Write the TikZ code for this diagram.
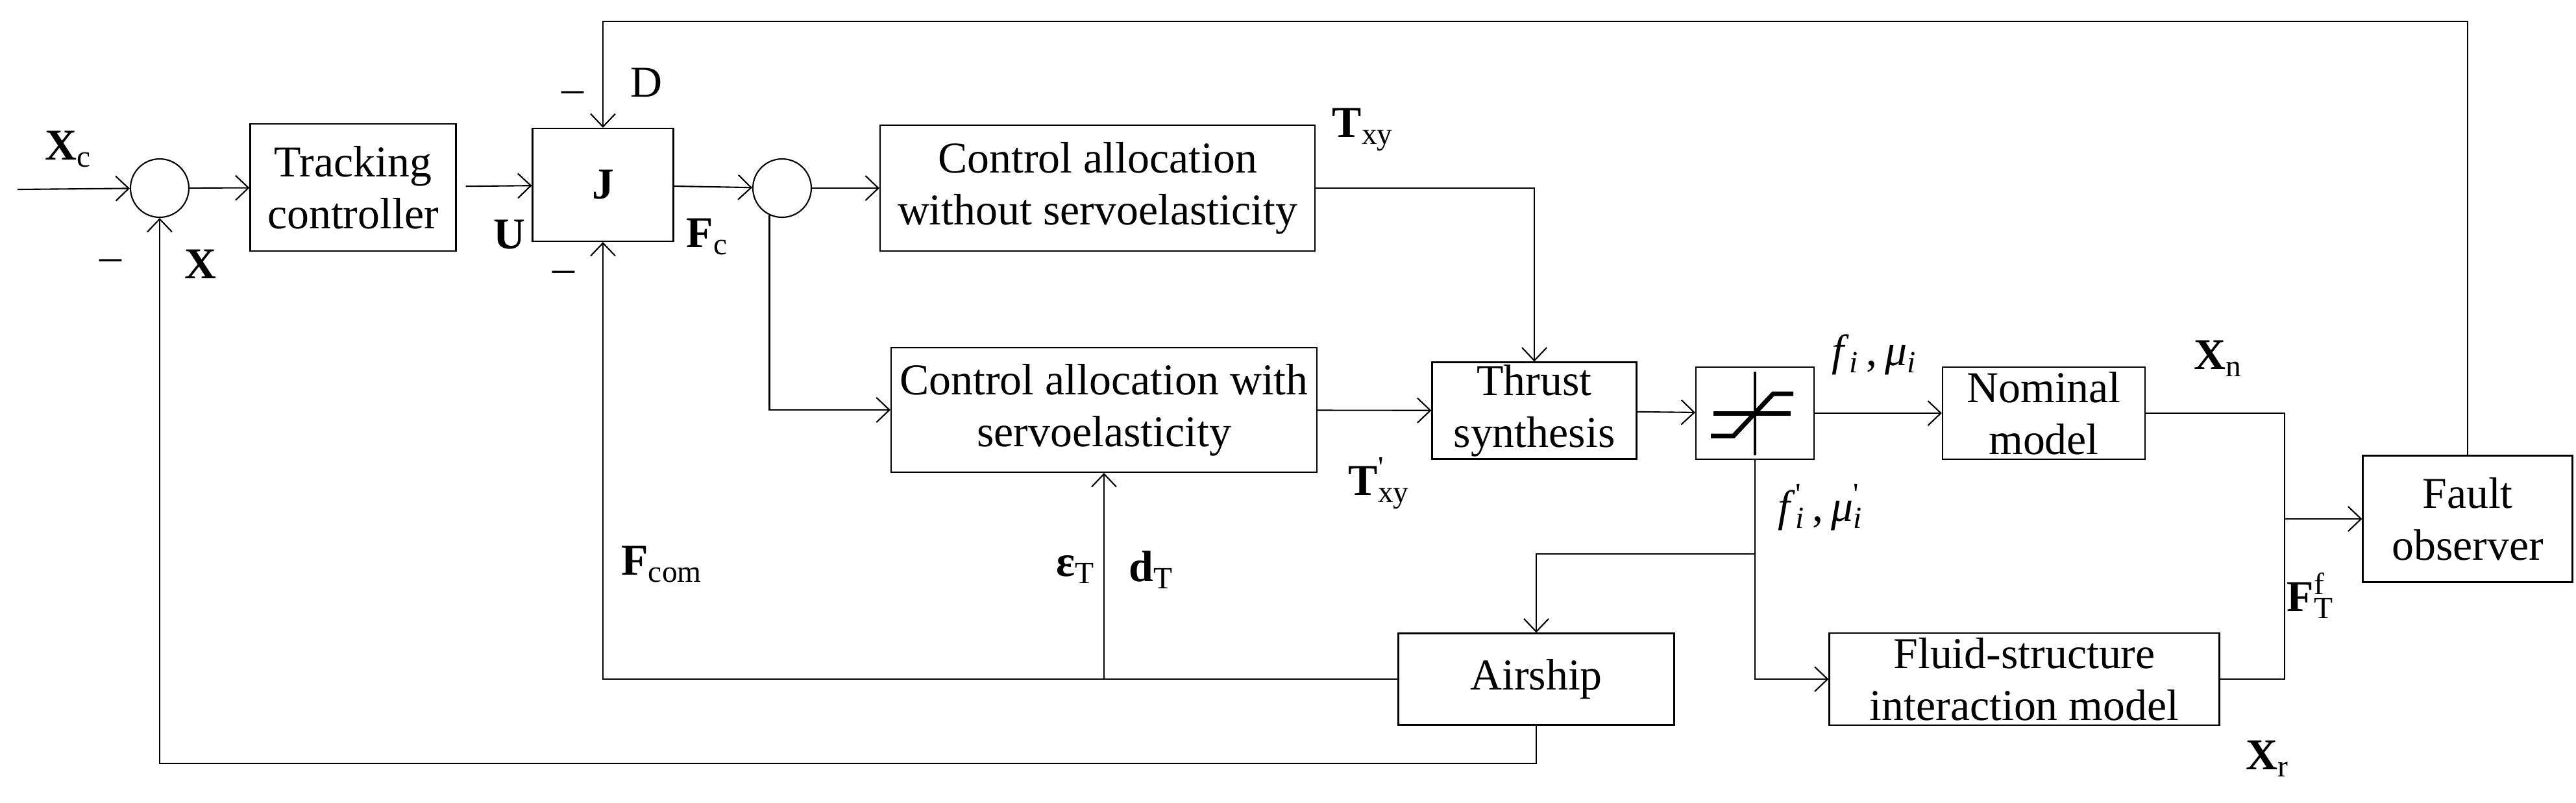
\documentclass[tikz,border=0pt]{standalone}
\usepackage{fontspec}
\setmainfont{Liberation Serif}
\usetikzlibrary{arrows.meta, positioning}
\def\pr{\textsuperscript{\textquotesingle}}

\begin{document}
\begin{tikzpicture}[>={Straight Barb[length=2mm,width=3.8mm]}, line width=0.6pt,
    font=\fontsize{19.3}{22.8}\selectfont]
    \tikzstyle{block}=[draw, rectangle, align=center, inner sep=0pt]
    \tikzstyle{summer}=[draw, circle, minimum size=0.9cm, inner sep=0pt]
    \tikzstyle{sig}=[inner sep=0pt]
    \useasboundingbox (0,0) rectangle (39.69,-12.37);

    % Draw the blocks of the upper row
    \node[summer] (S1) at (2.46,-2.90) {};
    \node[block, minimum width=3.17cm, minimum height=1.96cm] (TC) at (5.44,-2.89) {Tracking\\controller};
    \node[block, minimum width=2.17cm, minimum height=1.74cm] (J) at (9.29,-2.85) {\textbf{J}};
    \node[summer] (S2) at (12.05,-2.90) {};
    \node[block, minimum width=6.70cm, minimum height=1.94cm] (CA1) at (16.91,-2.90) {Control allocation\\without servoelasticity};

    % Draw the blocks of the middle row
    \node[block, minimum width=6.56cm, minimum height=1.92cm] (CA2) at (17.01,-6.32) {Control allocation with\\servoelasticity};
    \node[block, minimum width=3.15cm, minimum height=1.49cm] (TS) at (23.64,-6.33) {Thrust\\synthesis};
    \node[block, minimum width=1.82cm, minimum height=1.42cm] (SAT) at (27.04,-6.37) {};
    \node[block, minimum width=3.12cm, minimum height=1.42cm] (NM) at (31.49,-6.37) {Nominal\\model};
    \node[block, minimum width=3.23cm, minimum height=1.95cm] (FO) at (38.02,-8.00) {Fault\\observer};

    % Draw the blocks of the lower row
    \node[block, minimum width=4.25cm, minimum height=1.41cm] (AS) at (23.67,-10.47) {Airship};
    \node[block, minimum width=6.01cm, minimum height=1.42cm] (FSI) at (31.19,-10.47) {Fluid-structure\\interaction model};

    % Saturation sign
    \draw[line width=1.4pt] ([yshift=0.64cm]SAT.center) -- ([yshift=-0.65cm]SAT.center);
    \draw[line width=2pt] ([xshift=-0.64cm]SAT.center) -- ([xshift=0.55cm]SAT.center);
    \draw[line width=2pt] ([shift={(-0.68,-0.35)}]SAT.center) -- ([shift={(-0.33,-0.35)}]SAT.center)
        -- ([shift={(0.28,0.30)}]SAT.center) -- ([shift={(0.59,0.30)}]SAT.center);

    % Corner points of the connectors
    \coordinate (Xin) at (0.27,-2.92);
    \coordinate (T) at (38.02,-0.33);
    \coordinate (M) at (35.20,-8.00);
    \coordinate (B) at (27.04,-8.54);
    \coordinate (Bot) at (2.46,-11.77);

    % Connect the blocks
    \draw[->] (Xin) -- (S1);
    \draw[->] (S1) -- (TC);
    \draw[->, shorten <=0.14cm] (TC) -- (J);
    \draw[->] (J) -- (S2);
    \draw[->] (S2) -- (CA1);
    \draw[->] (S2.245) |- (CA2);
    \draw[->] (CA1) -| (TS);
    \draw[->] (CA2) -- (TS);
    \draw[->] (TS) -- (SAT);
    \draw[->] (SAT) -- (NM);
    \draw[->] (NM) -| (M) -- (FO);
    \draw (FSI) -| (M);
    \draw[->] (FO) -- (T) -| (J);
    \draw[->] (SAT) |- (FSI);
    \draw[->] (B) -| (AS);
    \draw[->] (AS) -| (J);
    \draw[->] (CA2 |- AS) -- (CA2);
    \draw[->] (AS) |- (Bot) -- (S1);

    % Signal labels
    \node[sig] (lXc) at (1.05,-2.30) {\textbf{X}\textsubscript{c}};
    \node[sig] (m1) at (1.70,-4.09) {–};
    \node[sig] (lX) at (3.09,-4.07) {\textbf{X}};
    \node[sig] (lD) at (9.96,-1.27) {D};
    \node[sig] (m2) at (8.82,-1.50) {–};
    \node[sig] (lU) at (7.85,-3.62) {\textbf{U}};
    \node[sig] (m3) at (8.68,-4.27) {–};
    \node[sig] (lFc) at (10.90,-3.65) {\textbf{F}\textsubscript{c}};
    \node[sig] (lT1) at (21.00,-2.00) {\textbf{T}\textsubscript{xy}};
    \node[sig] (lT2) at (21.25,-7.45) {\textbf{T}\rlap{\pr}\textsubscript{xy}};
    \node[sig] (lFcom) at (10.20,-8.70) {\textbf{F}\textsubscript{com}};
    \node[sig] (lEps) at (16.57,-8.78) {\textbf{ε}\textsubscript{T}};
    \node[sig] (ld) at (17.74,-8.78) {\textbf{d}\textsubscript{T}};
    \node[sig] (lf1) at (28.88,-5.47) {\textit{f}\textsubscript{\textit{i}}\,,\,\textit{μ}\textsubscript{\textit{i}}};
    \node[sig] (lf2) at (28.05,-7.82) {\textit{f}\rlap{\pr}\textsubscript{\textit{i}}\,,\,\textit{μ}\rlap{\pr}\textsubscript{\textit{i}}};
    \node[sig] (lXn) at (34.18,-5.53) {\textbf{X}\textsubscript{n}};
    \node[sig] (lF) at (35.60,-9.18) {\textbf{F}\rlap{\textsuperscript{f}}\textsubscript{T}};
    \node[sig] (lXr) at (34.94,-11.70) {\textbf{X}\textsubscript{r}};
\end{tikzpicture}
\end{document}
